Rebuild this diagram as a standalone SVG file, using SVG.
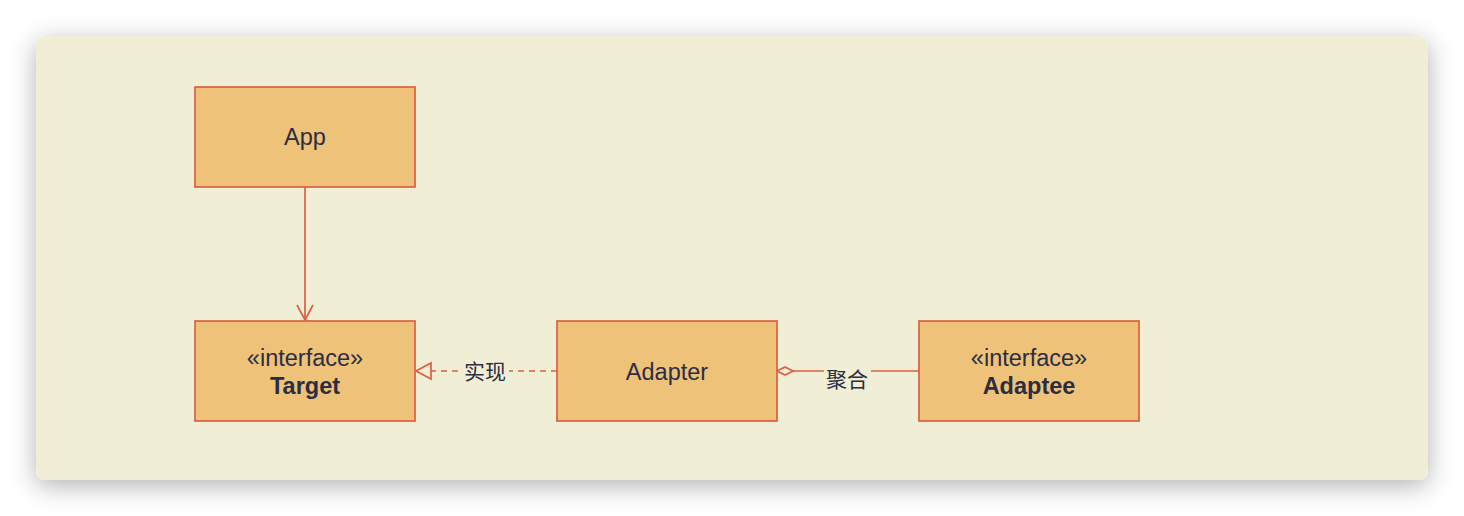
<svg xmlns="http://www.w3.org/2000/svg" width="1464" height="516" viewBox="0 0 1464 516">
  <defs>
    <filter id="shadow" x="-10%" y="-20%" width="120%" height="150%">
      <feDropShadow dx="0" dy="6" stdDeviation="13" flood-color="#000" flood-opacity="0.3"/>
    </filter>
    <marker id="open-arrow" viewBox="0 0 20 20" refX="16" refY="10" markerWidth="20" markerHeight="20" markerUnits="userSpaceOnUse" orient="auto">
      <path d="M1,2 L16,10 L1,18" fill="none" stroke="#DC5F44" stroke-width="1.7"/>
    </marker>
    <marker id="hollow-triangle" viewBox="0 0 20 20" refX="18" refY="10" markerWidth="20" markerHeight="20" markerUnits="userSpaceOnUse" orient="auto">
      <path d="M3,2 L18,10 L3,18 Z" fill="#F1EED6" stroke="#DC5F44" stroke-width="1.7"/>
    </marker>
    <marker id="hollow-diamond" viewBox="0 0 20 12" refX="2" refY="6" markerWidth="20" markerHeight="12" markerUnits="userSpaceOnUse" orient="auto">
      <path d="M2,6 L10,2 L18,6 L10,10 Z" fill="#F1EED6" stroke="#DC5F44" stroke-width="1.7"/>
    </marker>
  </defs>
  <style>
    .node rect { fill: #EFC27A; stroke: #DC5F44; stroke-width: 1.7; }
    .label { font-family: "Liberation Sans", Arial, sans-serif; font-size: 23.5px; fill: #2B2D42; text-anchor: middle; }
    .bold { font-weight: bold; }
    .edge { fill: none; stroke: #DC5F44; stroke-width: 1.7; }
    .dashed { stroke-dasharray: 6 5; }
    .elabel { font-family: "Liberation Sans", "Noto Sans CJK SC", sans-serif; font-size: 21px; fill: #2B2D42; text-anchor: middle; }
    .elabel-bg { fill: #F1EED6; }
  </style>

  <rect x="36" y="36" width="1392" height="444" rx="9" ry="9" fill="#F1EED6" filter="url(#shadow)"/>

  <g id="connectors">
    <line class="edge" x1="305" y1="187" x2="305" y2="320" marker-end="url(#open-arrow)"/>
    <line class="edge dashed" x1="557" y1="371" x2="416" y2="371" marker-end="url(#hollow-triangle)"/>
    <line class="edge" x1="777" y1="371" x2="919" y2="371" marker-start="url(#hollow-diamond)"/>
    <rect class="elabel-bg" x="461" y="360" width="48" height="22"/>
    <text class="elabel" x="485" y="379">实现</text>
    <rect class="elabel-bg" x="824" y="368" width="47" height="22"/>
    <text class="elabel" x="847" y="387">聚合</text>
  </g>

  <g id="node-app" class="node">
    <rect x="195" y="87" width="220" height="100"/>
    <text class="label" x="305" y="145">App</text>
  </g>

  <g id="node-target" class="node">
    <rect x="195" y="321" width="220" height="100"/>
    <text class="label" x="305" y="366">«interface»</text>
    <text class="label bold" x="305" y="394">Target</text>
  </g>

  <g id="node-adapter" class="node">
    <rect x="557" y="321" width="220" height="100"/>
    <text class="label" x="667" y="380">Adapter</text>
  </g>

  <g id="node-adaptee" class="node">
    <rect x="919" y="321" width="220" height="100"/>
    <text class="label" x="1029" y="366">«interface»</text>
    <text class="label bold" x="1029" y="394">Adaptee</text>
  </g>
</svg>
